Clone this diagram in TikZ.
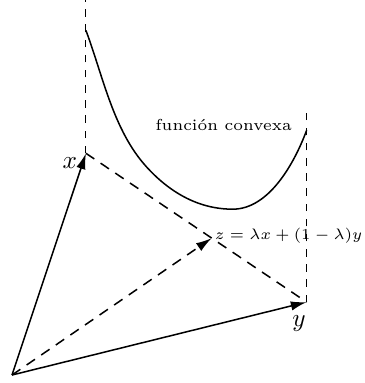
\documentclass[tikz,border=0pt]{standalone}
\usepackage{amsmath}
\usepackage{tikz}
\usetikzlibrary{arrows.meta, calc}

\begin{document}
\begin{tikzpicture}[
    vec/.style={semithick, -{Latex[length=2.2mm, width=1.3mm]}},
    guide/.style={thin, dashed},
    comb/.style={semithick, dash pattern=on 4pt off 3pt},
    small/.style={font=\fontsize{6.3}{7.6}\selectfont}
  ]
    \coordinate (orig) at (0, 0);
    \coordinate (ptx)  at (1.028, 3.083);
    \coordinate (pty)  at (4.097, 1.014);
    \coordinate (ptz)  at ($(ptx)!0.57!(pty)$);
    \coordinate (xtop) at (1.028, 5.208);
    \coordinate (ytop) at (4.097, 3.680);

    % vertical guides
    \draw[guide] (ptx) -- (xtop);
    \draw[guide] (pty) -- (ytop);

    % convex function
    \draw[semithick] (1.028, 4.792)
      .. controls (1.270, 4.143) and (1.409, 3.398) .. (1.875, 2.889)
      .. controls (2.172, 2.564) and (2.569, 2.306) .. (3.069, 2.306)
      .. controls (3.569, 2.306) and (3.922, 2.933) .. (4.097, 3.403);

    % vectors
    \draw[vec] (orig) -- (ptx);
    \draw[vec] (orig) -- (pty);
    \draw[comb] (ptx) -- (pty);
    \draw[comb, -{Latex[length=2.2mm, width=1.3mm]}] (orig) -- (ptz);

    \node[anchor=east, yshift=-4pt] (lblx) at (ptx) {$x$};
    \node[anchor=north, xshift=-3pt, yshift=-2pt] (lbly) at (pty) {$y$};
    \node[anchor=west, inner sep=1pt, yshift=1pt, small] (lblz) at (ptz)
      {$z=\lambda x+(1-\lambda)y$};
    \node[small] (lblf) at (2.944, 3.472) {funci\'on convexa};
    \useasboundingbox (-0.167, -0.111) rectangle (4.792, 5.208);
  \end{tikzpicture}
\end{document}
